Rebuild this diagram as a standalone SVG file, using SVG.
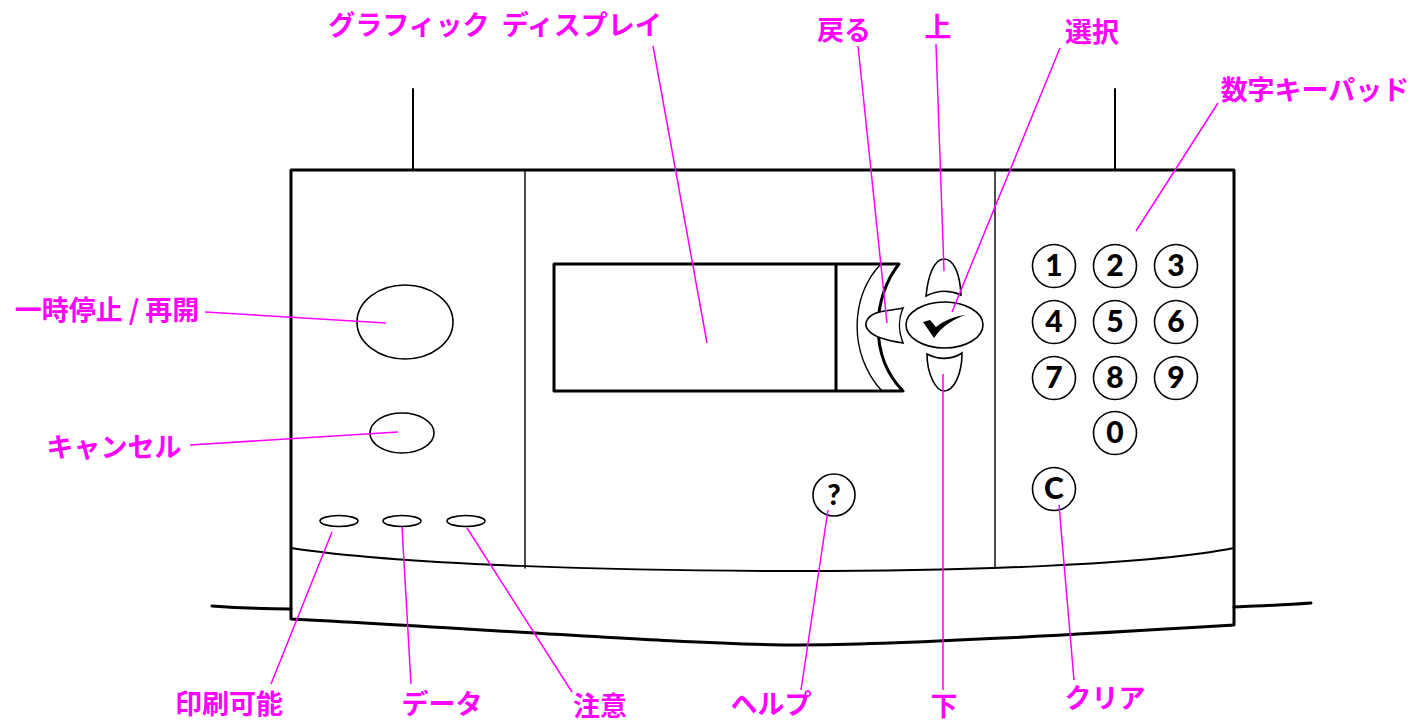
<svg xmlns="http://www.w3.org/2000/svg" width="1410" height="722" viewBox="0 0 1410 722">
<style>
.bg{fill:#fff}
.k{fill:none;stroke:#000;stroke-linecap:round;stroke-linejoin:round}
.t3{stroke-width:3}
.t2{stroke-width:2}
.t1{stroke-width:1.4}
.btn{fill:#fff;stroke:#000;stroke-width:1.6}
.m{fill:none;stroke:#f0f;stroke-width:1.5}
.lb{font-family:"Noto Sans CJK JP","Noto Sans CJK SC",sans-serif;font-weight:700;font-size:27px;fill:#f0f;text-anchor:middle}
.d{font-family:Lato,"Open Sans",sans-serif;font-weight:900;font-size:30px;fill:#000;text-anchor:middle}
</style>
<rect class="bg" width="1410" height="722"/>
<g id="panel">
<path class="k t2" d="M413 89V170M1115 89V170"/>
<path class="k t3" d="M291 619V170H1234V625C1100 633 900 645 800 645C700 645 500 630 291 619Z"/>
<path class="k t3" d="M212 606C240 608 265 609 291 609M1234 607C1260 606 1285 605 1311 603"/>
<path class="k t2" d="M291 548C400 565 620 571 800 571C960 571 1150 565 1234 548"/>
<path class="k t1" d="M525 170V568M995 170V568"/>
</g>
<g id="display">
<path class="k t3" d="M554 264H899C873 296 868 355 903 391H554ZM836 264V391"/>
<path class="k t1" d="M881 264C850 295 848 355 882 391"/>
</g>
<g id="back"><path class="btn" d="M903 308C895 310 880 311 876 313C866 317 863 325 869 331C874 337 890 341 903 343C898 330 898 320 903 308Z"/></g>
<g id="up"><path class="btn" d="M926 296C928 276 934 259 944 259C954 259 960 274 961 295C950 290 938 290 926 296Z"/></g>
<g id="select"><ellipse class="btn" cx="944.5" cy="325" rx="38.5" ry="23"/><path fill="#000" d="M923 322L930 320L936 327C945 320 955 316 966 315C955 318 942 326 934 338Z"/></g>
<g id="down"><path class="btn" d="M927 354C938 360 952 360 962 353C962 374 954 391 944 391C936 391 927 374 927 354Z"/></g>
<g id="pause"><ellipse class="btn" cx="405" cy="322" rx="48" ry="37"/></g>
<g id="cancel"><ellipse class="btn" cx="402" cy="433" rx="32" ry="20"/></g>
<g id="led-ready"><ellipse class="btn" cx="339" cy="521" rx="19" ry="5.5"/></g>
<g id="led-data"><ellipse class="btn" cx="402" cy="521" rx="19" ry="5.5"/></g>
<g id="led-attn"><ellipse class="btn" cx="466" cy="521" rx="19" ry="5.5"/></g>
<g id="help"><circle class="btn" cx="834" cy="495" r="21"/><text class="d" x="834" y="505" style="font-size:29px">?</text></g>
<g id="key1"><circle class="btn" cx="1054" cy="266" r="21.5"/><text class="d" x="1054" y="276">1</text></g>
<g id="key2"><circle class="btn" cx="1115" cy="266" r="21.5"/><text class="d" x="1115" y="276">2</text></g>
<g id="key3"><circle class="btn" cx="1176" cy="266" r="21.5"/><text class="d" x="1176" y="276">3</text></g>
<g id="key4"><circle class="btn" cx="1054" cy="322" r="21.5"/><text class="d" x="1054" y="332">4</text></g>
<g id="key5"><circle class="btn" cx="1115" cy="322" r="21.5"/><text class="d" x="1115" y="332">5</text></g>
<g id="key6"><circle class="btn" cx="1176" cy="322" r="21.5"/><text class="d" x="1176" y="332">6</text></g>
<g id="key7"><circle class="btn" cx="1054" cy="378" r="21.5"/><text class="d" x="1054" y="388">7</text></g>
<g id="key8"><circle class="btn" cx="1115" cy="378" r="21.5"/><text class="d" x="1115" y="388">8</text></g>
<g id="key9"><circle class="btn" cx="1176" cy="378" r="21.5"/><text class="d" x="1176" y="388">9</text></g>
<g id="key0"><circle class="btn" cx="1115" cy="433" r="21.5"/><text class="d" x="1115" y="443">0</text></g>
<g id="keyC"><circle class="btn" cx="1054" cy="489" r="21.5"/><text class="d" x="1054" y="499">C</text></g>
<g id="connectors">
<path class="m" d="M653 46L707 343M858 46L887 323M936 44L944 271M1060 48L952 312M1218 103L1136 231M205 312L386 323M190 445L398 432M332 532L271 684M402 527L411 684M467 528L572 692M828 510L801 690M943 374V690M1059 505L1074 680"/>
</g>
<g id="labels">
<text class="lb" x="495" y="35" word-spacing="6">グラフィック ディスプレイ</text>
<text class="lb" x="844" y="40">戻る</text>
<text class="lb" x="938" y="37">上</text>
<text class="lb" x="1092" y="42">選択</text>
<text class="lb" x="1315" y="100">数字キーパッド</text>
<text class="lb" x="107" y="320">一時停止 / 再開</text>
<text class="lb" x="114" y="457">キャンセル</text>
<text class="lb" x="229" y="714">印刷可能</text>
<text class="lb" x="442" y="714">データ</text>
<text class="lb" x="600" y="716">注意</text>
<text class="lb" x="771" y="714">ヘルプ</text>
<text class="lb" x="944" y="716">下</text>
<text class="lb" x="1105" y="708">クリア</text>
</g>
</svg>
